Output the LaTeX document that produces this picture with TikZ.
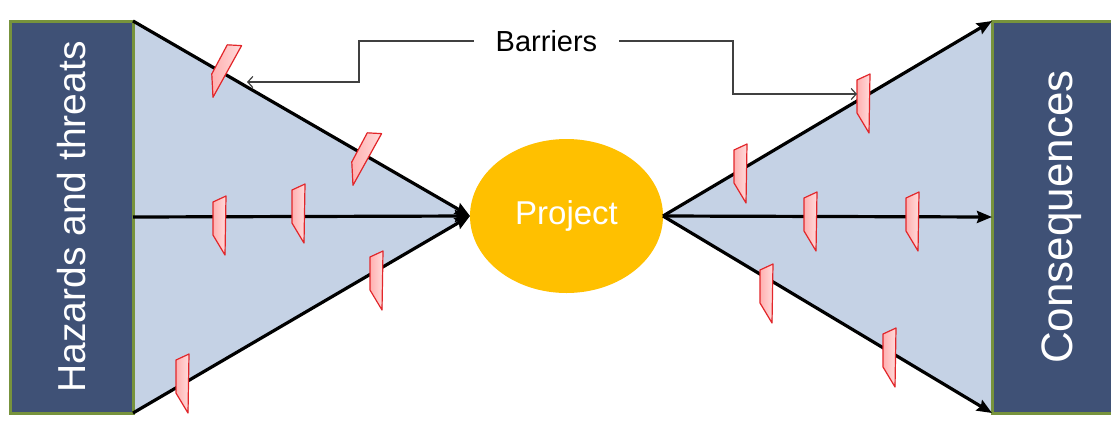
\documentclass[tikz,border=0pt]{standalone}
\usepackage{fontspec}
\setmainfont{Liberation Sans}
\usepackage{graphicx}
\usetikzlibrary{arrows.meta, calc, backgrounds, shapes.geometric}
\definecolor{boxblue}{HTML}{3F5176}
\definecolor{boxedge}{HTML}{77933C}
\definecolor{wedge}{HTML}{C5D2E5}
\definecolor{projgold}{HTML}{FFC000}
\definecolor{barfill}{HTML}{FFB0B0}
\definecolor{baredge}{HTML}{E3262A}

\begin{document}
\begin{tikzpicture}[x=1pt, y=-1pt,
  sidebox/.style={draw=boxedge, line width=3pt, fill=boxblue, text=white,
                  minimum width=#1, minimum height=392pt, inner sep=0pt,
                  outer sep=0pt, anchor=north west},
  flow/.style={line width=3.2pt, -{Stealth[length=15pt, width=12pt, inset=2pt]}},
  callout/.style={line width=1.2pt, draw=black!75, -{Straight Barb[length=5pt, width=11pt]}},
  barrier/.pic={
    \filldraw[left color=barfill, right color=barfill!45, draw=baredge,
              line width=1.2pt, line join=round]
      (-6,-14) -- (7,-20) -- (6,39) -- (-6,19) -- cycle;}
]
  \useasboundingbox (0,0) rectangle (1111,424);

  % ── end boxes and the project ───────────────────────────────────────────
  \node[sidebox=123pt] (hazards) at (10,21)
    {\rotatebox{90}{\fontsize{39}{44}\selectfont Hazards and threats}};
  \node[sidebox=130pt] (consequences) at (992,21)
    {\hspace*{10pt}\rotatebox{90}{\fontsize{44}{50}\selectfont Consequences}};
  \node[ellipse, fill=projgold, minimum width=193pt, minimum height=154pt,
        inner sep=0pt, outer sep=0pt, text=white,
        font=\fontsize{33}{38}\selectfont] (project) at (566.5,216) {\raisebox{-3pt}{Project}};

  % ── wedges behind the arrows ────────────────────────────────────────────
  \begin{scope}[on background layer]
    \fill[white] (0,0) rectangle (1111,424);
    \fill[wedge] (hazards.north east) -- (project.west) -- (hazards.south east) -- cycle;
    \fill[wedge] (project.east) -- (consequences.north west)
                 -- (consequences.south west) -- cycle;
  \end{scope}

  % ── threat and consequence paths ────────────────────────────────────────
  \draw[flow] (hazards.north east) -- (project.west);
  \draw[flow] (hazards.east)       -- (project.west);
  \draw[flow] (hazards.south east) -- (project.west);
  \draw[flow] (project.east) -- (consequences.north west);
  \draw[flow] (project.east) -- (consequences.west);
  \draw[flow] (project.east) -- (consequences.south west);

  % ── barriers ────────────────────────────────────────────────────────────
  \pic[rotate=-28] at (226,60)  {barrier};
  \pic[rotate=-28] at (366,148) {barrier};
  \foreach \p in {(219,216), (298,204), (376,271), (182,374),
                  (740,164), (863,94), (810,212), (912,212),
                  (766,284), (889,348)}
    \pic at \p {barrier};

  % ── label and its callouts ──────────────────────────────────────────────
  \node[inner xsep=22pt, inner ysep=0pt, font=\fontsize{29}{33}\selectfont]
    (barlabel) at (546.5,41) {Barriers};
  \coordinate (hitL) at (247,82);
  \coordinate (hitR) at (857,94);
  \draw[callout] (barlabel.west) -| (359,82) -- (hitL);
  \draw[callout] (barlabel.east) -| (733,94) -- (hitR);
\end{tikzpicture}
\end{document}
